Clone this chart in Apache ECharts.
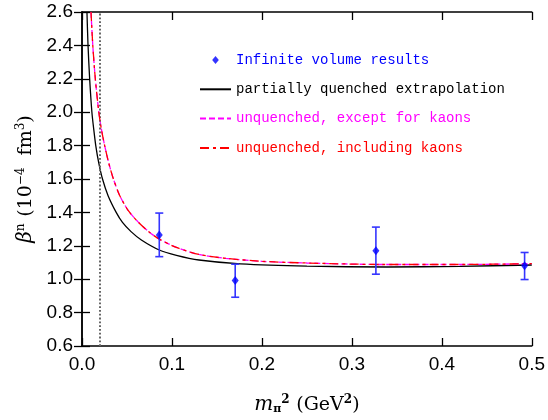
<!DOCTYPE html>
<html>
<head>
<meta charset="utf-8">
<script src="https://cdn.jsdelivr.net/npm/echarts@6/dist/echarts.min.js"></script>
<style>
  html, body { margin: 0; padding: 0; background: #fff; }
  #chart { width: 548px; height: 420px; }
</style>
</head>
<body>
<div id="chart"></div>
<script>
// Infinite-volume lattice results: [m_pi^2, beta, lower, upper]
const measured = [
  [0.0859, 1.265, 1.135, 1.396],
  [0.1703, 0.992, 0.892, 1.090],
  [0.3267, 1.170, 1.030, 1.312],
  [0.4920, 1.080, 0.998, 1.160]
];

// Partially quenched chiral extrapolation
const pqCurve = [
  [0.0055, 2.60], [0.0067, 2.40], [0.0085, 2.20], [0.0110, 2.00],
  [0.0130, 1.90], [0.0153, 1.80], [0.0185, 1.70], [0.0228, 1.60],
  [0.0290, 1.50], [0.0380, 1.40], [0.0450, 1.34], [0.0545, 1.285],
  [0.0660, 1.235], [0.0859, 1.175], [0.1050, 1.143], [0.1300, 1.115],
  [0.1760, 1.092], [0.2500, 1.078], [0.3390, 1.073], [0.4200, 1.077],
  [0.5000, 1.085]
];

// Unquenched, except for kaons
const unqNoKaon = [
  [0.0100, 2.60], [0.0120, 2.40], [0.0148, 2.20], [0.0187, 2.00],
  [0.0215, 1.90], [0.0252, 1.80], [0.0295, 1.70], [0.0349, 1.60],
  [0.0420, 1.50], [0.0515, 1.41], [0.0620, 1.345], [0.0740, 1.285],
  [0.0859, 1.240], [0.1050, 1.190], [0.1300, 1.148], [0.1600, 1.125],
  [0.2000, 1.107], [0.2500, 1.097], [0.3340, 1.088], [0.4200, 1.088],
  [0.5000, 1.093]
];

// Unquenched, including kaons
const unqKaon = [
  [0.0100, 2.60], [0.0120, 2.40], [0.0148, 2.20], [0.0187, 2.00],
  [0.0215, 1.90], [0.0252, 1.80], [0.0295, 1.70], [0.0349, 1.60],
  [0.0420, 1.50], [0.0515, 1.41], [0.0620, 1.345], [0.0740, 1.285],
  [0.0859, 1.240], [0.1050, 1.190], [0.1300, 1.148], [0.1600, 1.125],
  [0.2000, 1.107], [0.2500, 1.097], [0.3340, 1.088], [0.4200, 1.088],
  [0.5000, 1.093]
];

// Physical pion mass squared
const physicalPoint = 0.0196;

const legendNames = [
  'Infinite volume results',
  'partially quenched extrapolation',
  'unquenched, except for kaons',
  'unquenched, including kaons'
];
const legendColors = ['#0000ff', '#000000', '#ff00ff', '#ff0000'];

const chart = echarts.init(document.getElementById('chart'), null, { renderer: 'canvas' });

const tickFmt = v => v.toFixed(1);
const labelFont = { fontFamily: 'Liberation Sans', fontSize: 19, color: '#000' };

function frameAxis(extra) {
  return Object.assign({
    type: 'value',
    axisLine: { show: true, lineStyle: { color: '#000', width: 1.5 } },
    axisTick: { show: true, inside: true, length: 8, lineStyle: { color: '#000', width: 1.3 } },
    splitLine: { show: false },
    axisLabel: { show: false }
  }, extra);
}

const option = {
  animation: false,
  backgroundColor: '#fff',
  grid: { left: 82, right: 12, top: 12, bottom: 68 },
  xAxis: [
    frameAxis({
      position: 'bottom', min: 0, max: 0.5, interval: 0.1,
      axisLabel: Object.assign({ show: true, margin: 9, formatter: tickFmt }, labelFont),
      name: '{m|m}{sub|π}{sup|2}  {t|(GeV}{sup|2}{t|)}',
      nameLocation: 'middle', nameGap: 48,
      nameTextStyle: {
        rich: {
          m: { fontFamily: 'DejaVu Serif', fontStyle: 'italic', fontSize: 20, color: '#000' },
          sub: { fontFamily: 'DejaVu Serif', fontSize: 11, fontWeight: 'bold', color: '#000', padding: [9, 0, 0, 0] },
          sup: { fontFamily: 'DejaVu Serif', fontSize: 12, fontWeight: 'bold', color: '#000', padding: [0, 0, 10, 0] },
          t: { fontFamily: 'DejaVu Serif', fontSize: 19, color: '#000' }
        }
      }
    }),
    frameAxis({ position: 'top', min: 0, max: 0.5, interval: 0.1 })
  ],
  yAxis: [
    frameAxis({
      position: 'left', min: 0.6, max: 2.6, interval: 0.2,
      axisLabel: Object.assign({ show: true, margin: 9, formatter: tickFmt }, labelFont),
      name: '{b|β}{sup|n}  {t|(10}{sup|−4}{t|  fm}{sup|3}{t|)}',
      nameLocation: 'middle', nameGap: 45,
      nameTextStyle: {
        rich: {
          b: { fontFamily: 'DejaVu Serif', fontStyle: 'italic', fontSize: 20, color: '#000' },
          sup: { fontFamily: 'DejaVu Serif', fontSize: 12, color: '#000', padding: [0, 0, 10, 0] },
          t: { fontFamily: 'DejaVu Serif', fontSize: 19, color: '#000' }
        }
      }
    }),
    frameAxis({ position: 'right', min: 0.6, max: 2.6, interval: 0.2 })
  ],
  legend: {
    orient: 'vertical',
    left: 194,
    top: 48,
    itemWidth: 31,
    itemHeight: 8,
    itemGap: 15.3,
    symbolKeepAspect: true,
    textStyle: { fontFamily: 'Liberation Mono', fontSize: 14 },
    data: legendNames.map((n, i) => {
      const item = { name: n, textStyle: { color: legendColors[i] } };
      if (i === 0) {
        item.icon = 'path://M5,0 L10,6 L5,12 L0,6 Z';
      } else {
        item.itemStyle = { opacity: 0 };
      }
      return item;
    })
  },
  series: [
    {
      name: legendNames[1],
      type: 'line',
      data: pqCurve,
      symbol: 'none',
      smooth: 0.25,
      clip: true,
      lineStyle: { color: '#000', width: 1.3 },
      itemStyle: { color: '#000' },
      markLine: {
        silent: true,
        symbol: 'none',
        label: { show: false },
        lineStyle: { color: '#666', width: 2, type: [1.8, 2] },
        data: [{ xAxis: physicalPoint }]
      },
      z: 3
    },
    {
      name: legendNames[2],
      type: 'line',
      data: unqNoKaon,
      symbol: 'none',
      smooth: 0.25,
      clip: true,
      lineStyle: { color: '#ff00ff', width: 1.3, type: [6, 3] },
      itemStyle: { color: '#ff00ff' },
      z: 4
    },
    {
      name: legendNames[3],
      type: 'line',
      data: unqKaon,
      symbol: 'none',
      smooth: 0.25,
      clip: true,
      lineStyle: { color: '#ff0000', width: 1.3, type: [9, 4, 3, 4] },
      itemStyle: { color: '#ff0000' },
      z: 5
    },
    {
      name: 'errors',
      type: 'custom',
      data: measured,
      encode: { x: 0, y: [1, 2, 3] },
      renderItem: function (params, api) {
        const x = api.value(0);
        const lo = api.coord([x, api.value(2)]);
        const hi = api.coord([x, api.value(3)]);
        const cap = 4;
        const style = { stroke: '#3535ff', lineWidth: 1.6, fill: null };
        return {
          type: 'group',
          children: [
            { type: 'line', shape: { x1: lo[0], y1: lo[1], x2: hi[0], y2: hi[1] }, style: style },
            { type: 'line', shape: { x1: lo[0] - cap, y1: lo[1], x2: lo[0] + cap, y2: lo[1] }, style: style },
            { type: 'line', shape: { x1: hi[0] - cap, y1: hi[1], x2: hi[0] + cap, y2: hi[1] }, style: style }
          ]
        };
      },
      z: 6
    },
    {
      name: legendNames[0],
      type: 'scatter',
      data: measured.map(d => [d[0], d[1]]),
      symbol: 'diamond',
      symbolSize: [7, 9],
      itemStyle: { color: '#0000ff' },
      z: 7
    }
  ]
};

chart.setOption(option);
</script>
</body>
</html>
